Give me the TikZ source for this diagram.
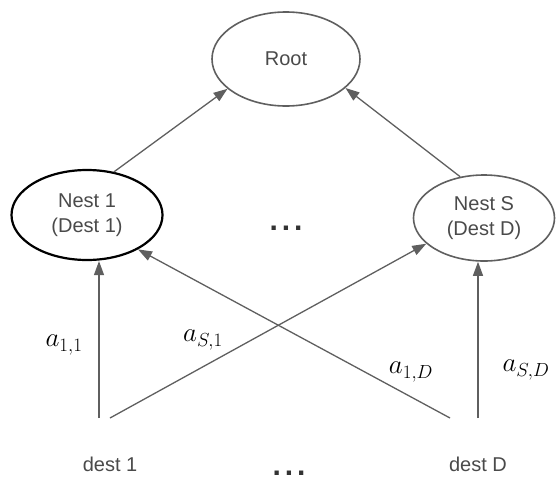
\documentclass[tikz,border=0pt]{standalone}
\usepackage{fix-cm}
\usepackage{fontspec}
\setmainfont{Liberation Sans}
\usetikzlibrary{shapes.geometric,arrows.meta}
\definecolor{edgegray}{HTML}{5F5F5F}
\definecolor{textgray}{HTML}{4A4A4A}
\begin{document}
\begin{tikzpicture}[x=1pt,y=-1pt,
  oval/.style={ellipse, draw=edgegray, line width=1.6pt, inner sep=0pt, text=textgray, font=\fontsize{20}{25}\selectfont, align=center},
  conn/.style={draw=edgegray, line width=1.3pt, -{Triangle[length=14pt,width=10pt]}},
  lbl/.style={font=\fontsize{20}{24}\selectfont, text=textgray, inner sep=0pt},
  mlbl/.style={font=\fontsize{27}{30}\selectfont, inner sep=0pt},
  dotsty/.style={font=\fontsize{30}{30}\selectfont\bfseries, text=black!80, inner sep=0pt, anchor=base}]
\useasboundingbox (0,0) rectangle (556,482);
\node[oval, minimum width=148pt, minimum height=94pt] (root) at (286,59) {Root};
\node[oval, draw=black, line width=2.2pt, minimum width=151pt, minimum height=90pt] (n1) at (87,215) {Nest 1\\(Dest 1)};
\node[oval, minimum width=141pt, minimum height=86pt] (nS) at (484,218) {Nest S\\(Dest D)};
\node[dotsty] (dm) at (286,230) {.\kern4pt.\kern4pt.};
\node[dotsty] (db) at (289,475) {.\kern4pt.\kern4pt.};
\node[lbl] (d1) at (110,464) {dest 1};
\node[lbl] (dD) at (478,464) {dest D};
\coordinate (d1a) at (99,418);
\coordinate (d1b) at (110,418);
\coordinate (dDa) at (450,418);
\coordinate (dDb) at (478,418);
\draw[conn] (n1.58) -- (root.207);
\draw[conn] (nS.120) -- (root.334);
\draw[conn] (d1a) -- (d1a |- n1.south);
\draw[conn] (dDb) -- (dDb |- nS.south);
\draw[conn] (d1b) -- (nS.204);
\draw[conn] (dDa) -- (n1.326);
\node[mlbl] (l11) at (64,345) {$a_{1,1}$};
\node[mlbl] (lS1) at (203,340) {$a_{S,1}$};
\node[mlbl] (l1D) at (411,372) {$a_{1,D}$};
\node[mlbl] (lSD) at (526,370) {$a_{S,D}$};
\end{tikzpicture}
\end{document}
